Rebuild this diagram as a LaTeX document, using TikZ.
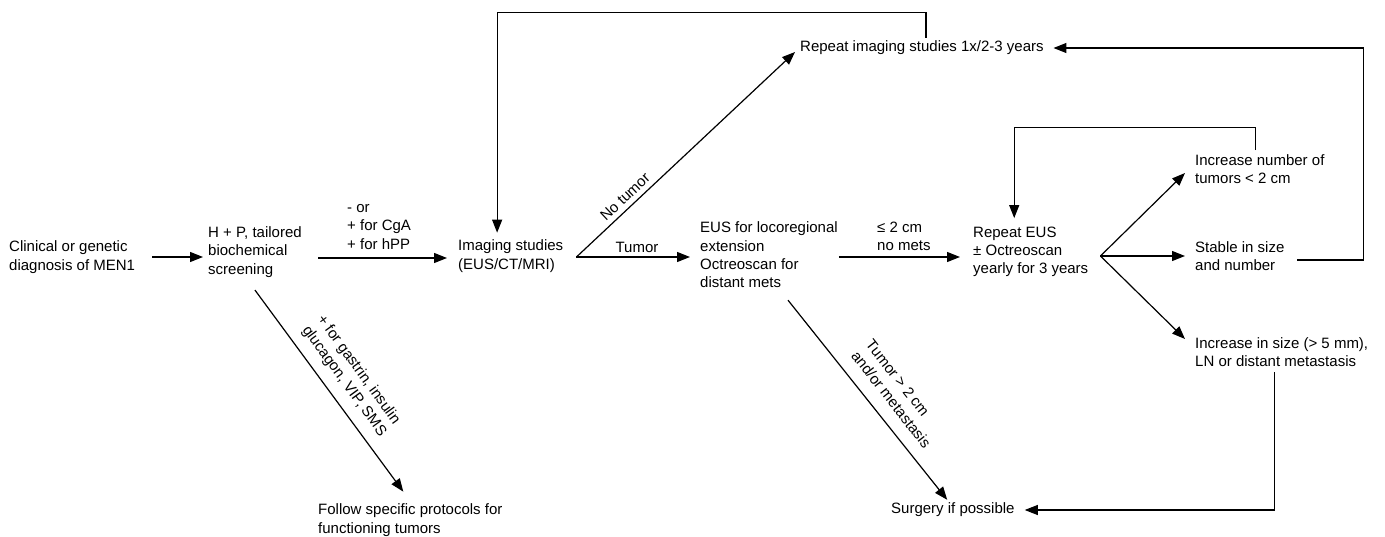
\documentclass[tikz,border=0pt]{standalone}
\usepackage{fontspec}
\setmainfont{Liberation Sans}
\usetikzlibrary{arrows.meta}
\begin{document}
\begin{tikzpicture}[x=1pt,y=-1pt,
  txt/.style={font=\fontsize{15}{18.3}\selectfont, align=left, inner sep=0pt, anchor=west},
  lbl/.style={font=\fontsize{15}{18.3}\selectfont, align=left, inner sep=0pt},
  arr/.style={line width=1.2pt, -{Triangle[length=13pt,width=10pt]}}]
\useasboundingbox[fill=white] (0,0) rectangle (1385,537);

% main nodes
\node[txt] (A) at (9,257) {Clinical or genetic\\diagnosis of MEN1};
\node[txt] (B) at (208,252) {H + P, tailored\\biochemical\\screening};
\node[txt] (C) at (458,256) {Imaging studies\\(EUS/CT/MRI)};
\node[txt] (D) at (700,255) {EUS for locoregional\\extension\\Octreoscan for\\distant mets};
\node[txt] (E) at (973,252) {Repeat EUS\\± Octreoscan\\yearly for 3 years};
\node[txt] (F) at (800,48) {Repeat imaging studies 1x/2-3 years};
\node[txt] (G) at (1195,169) {Increase number of\\tumors < 2 cm};
\node[txt] (H) at (1195,256) {Stable in size\\and number};
\node[txt] (I) at (1195,352) {Increase in size (> 5 mm),\\LN or distant metastasis};
\node[txt] (J) at (318,520) {Follow specific protocols for\\functioning tumors};
\node[txt] (K) at (891,510) {Surgery if possible};

% labels
\node[lbl, anchor=west] (l1) at (347,227) {- or\\+ for CgA\\+ for hPP};
\node[lbl] (l2) at (637,247) {Tumor};
\node[lbl, rotate=43.4] (l3) at (625,197) {No tumor};
\node[lbl, anchor=west] (l4) at (877,236) {≤ 2 cm\\no mets};
\node[lbl, rotate=-54] (l5) at (351.5,376) {+ for gastrin, insulin\\glucagon, VIP, SMS};
\node[lbl, rotate=-51.9] (l6) at (898.5,394) {Tumor > 2 cm\\and/or metastasis};

% split points
\coordinate (S1) at ([xshift=13pt,yshift=-1pt]C.east);
\coordinate (S2) at ([xshift=12pt,yshift=-4pt]E.east);

% connectors
\draw[arr] ([xshift=17pt]A.east) -- ([xshift=-5pt]A.east -| B.west);
\draw[arr] ([xshift=16.5pt,yshift=-6pt]B.east) -- ([xshift=-11pt,yshift=-6pt]B.east -| C.west);
\draw[arr] (S1) -- ([xshift=-10pt]S1 -| D.west);
\draw[arr] (S1) -- ([xshift=-5pt,yshift=-4pt]F.west);
\draw[arr] ([xshift=1pt,yshift=-2pt]D.east) -- ([xshift=-13pt,yshift=-2pt]D.east -| E.west);
\draw[arr] (S2) -- ([xshift=-10pt,yshift=-4pt]G.west);
\draw[arr] (S2) -- ([xshift=-10pt]S2 -| H.west);
\draw[arr] (S2) -- ([xshift=-10pt,yshift=13pt]I.west);
\draw[arr] ([xshift=-4.6pt,yshift=4pt]G.north) -- ++(0,-23) -| ([xshift=-16.5pt,yshift=8.6pt]E.north);
\draw[arr] ([xshift=12.8pt,yshift=-4pt]H.east) -- ++(66,0) |- ([xshift=9.6pt]F.east);
\draw[arr] ([xshift=-7.5pt,yshift=-5.6pt]I.south) |- ([xshift=10pt]K.east);
\draw[arr] ([xshift=4pt,yshift=3pt]F.north) -- ++(0,-25) -| ([xshift=-13.6pt,yshift=7pt]C.north);
\draw[arr] ([xshift=19pt,yshift=-12pt]D.south) -- ([xshift=-5.7pt,yshift=3pt]K.north);
\draw[arr] ([yshift=-12.6pt]B.south) -- ([xshift=-7pt,yshift=12pt]J.north);
\end{tikzpicture}
\end{document}
